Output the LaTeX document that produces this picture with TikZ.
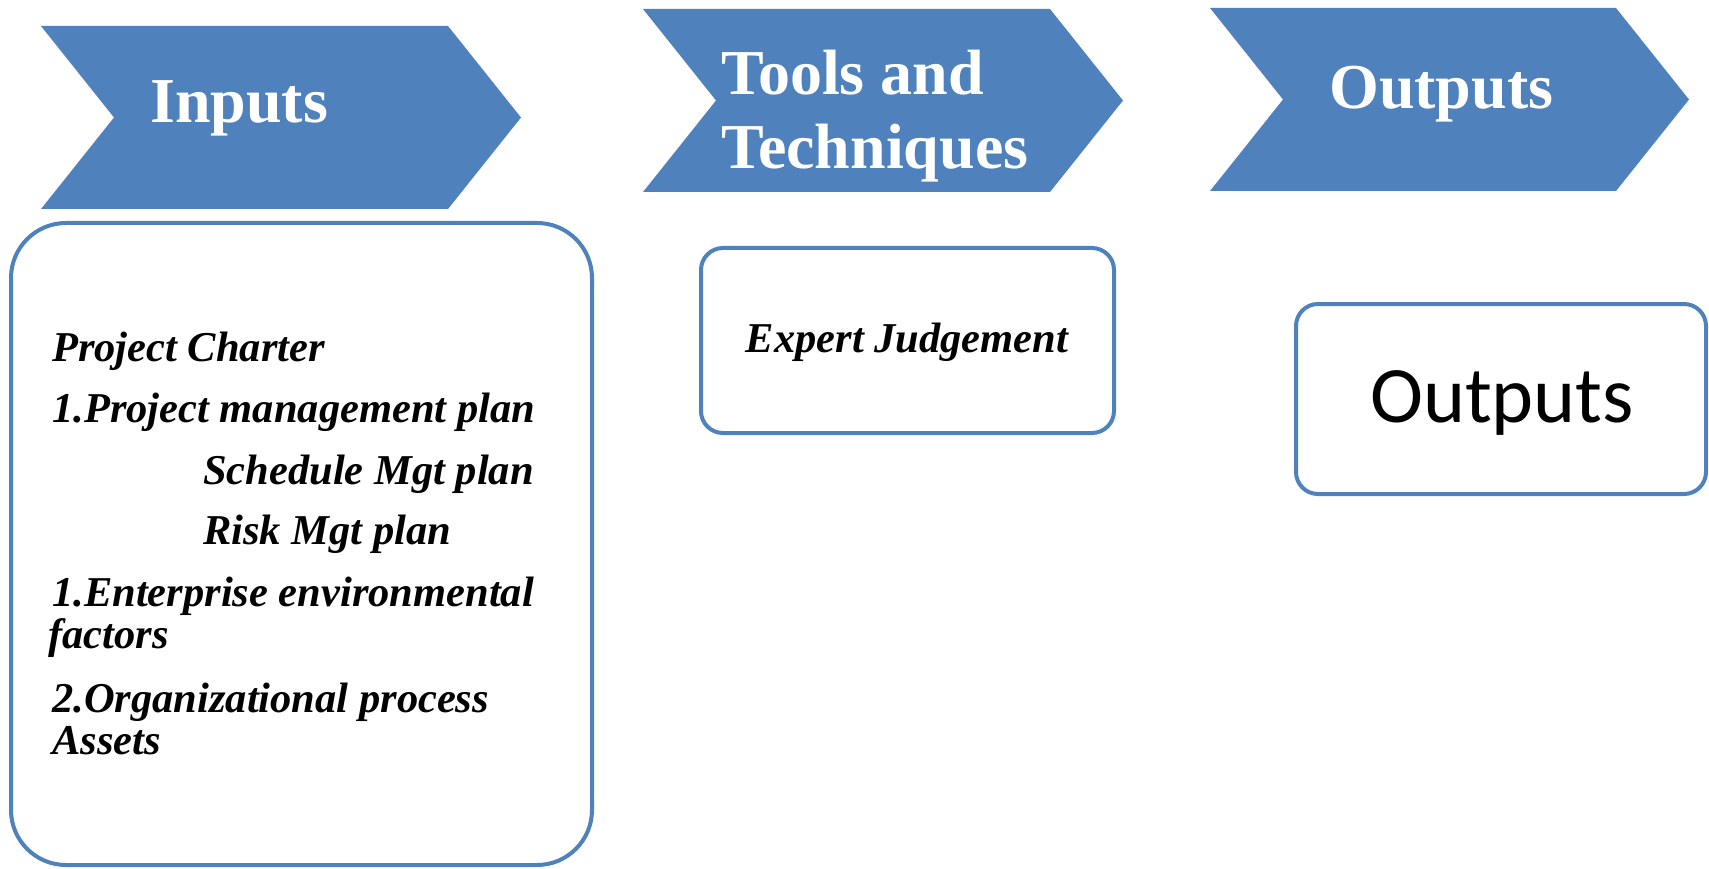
\documentclass[tikz,border=0pt]{standalone}
\usepackage{fontspec}
\setmainfont{Liberation Serif}
\newfontfamily\calibri{Carlito}
\usetikzlibrary{calc}
\definecolor{chev}{HTML}{4F81BD}

\begin{document}
\begin{tikzpicture}[x=1pt,y=-1pt,line join=round,
		chevtxt/.style={text=white,font=\fontsize{64}{74}\selectfont\bfseries,anchor=base west,inner sep=0pt},
		item/.style={font=\fontsize{42.5}{40}\selectfont\bfseries\itshape,anchor=base west,inner sep=0pt},
		box/.style={draw=chev,line width=4pt,rounded corners=#1}]
				\useasboundingbox (0,0) rectangle (1709,869);
				% chevrons
				\foreach \l/\t/\r in {41/26/448,643/9/1050,1210/8/1616}{\fill[chev] (\l,\t) -- ++({\r-\l},0) -- ++(73,91.5) -- ++(-73,91.5) -- ++({\l-\r},0) -- ++(73,-91.5) -- cycle;}
				\node[chevtxt] (inp) at (150,123) {Inputs};
				\node[chevtxt] (tools) at (721,95) {Tools and};
				\node[chevtxt] (tech) at (721,169) {Techniques};
				\node[chevtxt] (outp) at (1329,109) {Outputs};
				% boxes
				\draw[box=55pt] (11,223) rectangle (592,865);
				\draw[box=22pt] (701,248) rectangle (1114,433);
				\draw[box=22pt] (1296,304) rectangle (1706,494);
				\foreach \n/\x/\y/\t in {a/52/361/Project Charter,b/52/422/1.Project management plan,c/203/484/Schedule Mgt plan,d/203/544/Risk Mgt plan,e/52/606/1.Enterprise environmental,f/48/648/factors,g/52/712/2.Organizational process,h/52/754/Assets}{\node[item] (l\n) at (\x,\y) {\t};}
				\node[item,anchor=base] (expert) at (907,352) {Expert Judgement};
				\node[font=\calibri\fontsize{80}{96}\selectfont,anchor=base,inner sep=0pt] (out) at (1502,422) {Outputs};
			\end{tikzpicture}
\end{document}
